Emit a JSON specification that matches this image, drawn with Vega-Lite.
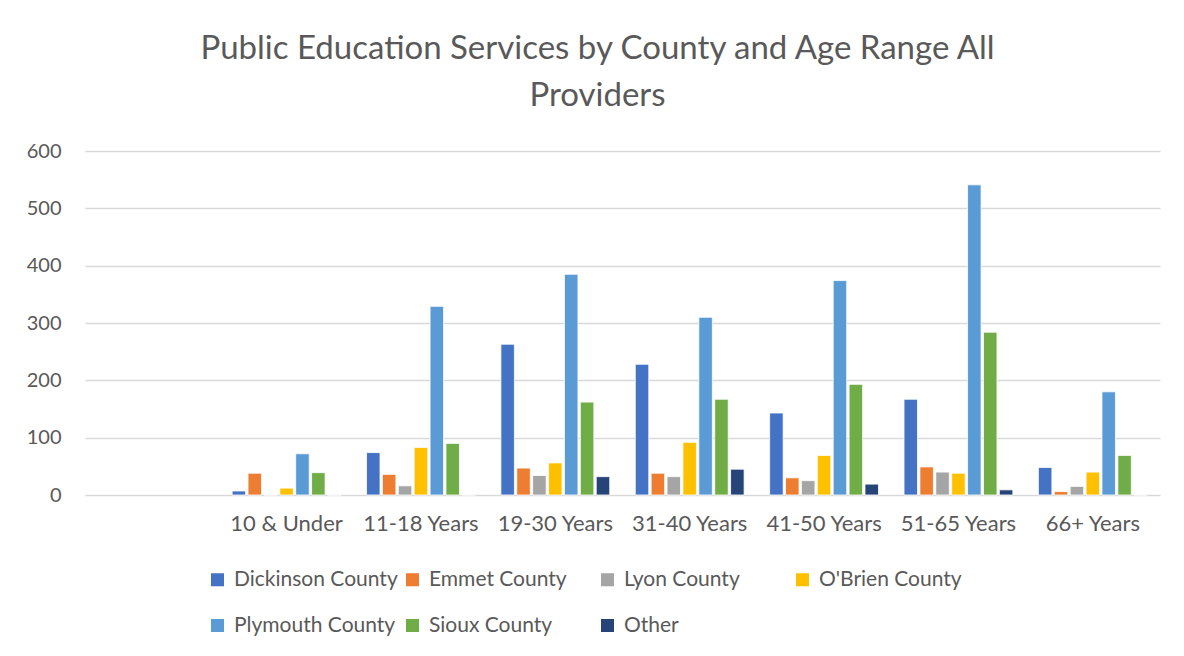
{
  "$schema": "https://vega.github.io/schema/vega-lite/v6.json",
  "autosize": {"type": "none"},
  "padding": {"left": 85, "top": 151, "right": 24, "bottom": 161},
  "width": 1075,
  "height": 344,
  "background": "white",
  "config": {
    "font": "Lato",
    "view": {"stroke": null}
  },
  "title": {
    "text": ["Public Education Services by County and Age Range All", "Providers"],
    "fontSize": 33,
    "fontWeight": "normal",
    "color": "#595959",
    "lineHeight": 47,
    "anchor": "middle",
    "frame": "group",
    "dx": -25,
    "offset": 28
  },
  "data": {
    "values": [
      {"age": "10 & Under", "county": "Dickinson County", "value": 7},
      {"age": "10 & Under", "county": "Emmet County", "value": 38},
      {"age": "10 & Under", "county": "Lyon County", "value": 0},
      {"age": "10 & Under", "county": "O'Brien County", "value": 12},
      {"age": "10 & Under", "county": "Plymouth County", "value": 72},
      {"age": "10 & Under", "county": "Sioux County", "value": 39},
      {"age": "10 & Under", "county": "Other", "value": 0},
      {"age": "11-18 Years", "county": "Dickinson County", "value": 74},
      {"age": "11-18 Years", "county": "Emmet County", "value": 36},
      {"age": "11-18 Years", "county": "Lyon County", "value": 16},
      {"age": "11-18 Years", "county": "O'Brien County", "value": 83},
      {"age": "11-18 Years", "county": "Plymouth County", "value": 329},
      {"age": "11-18 Years", "county": "Sioux County", "value": 90},
      {"age": "11-18 Years", "county": "Other", "value": 0},
      {"age": "19-30 Years", "county": "Dickinson County", "value": 263},
      {"age": "19-30 Years", "county": "Emmet County", "value": 47},
      {"age": "19-30 Years", "county": "Lyon County", "value": 34},
      {"age": "19-30 Years", "county": "O'Brien County", "value": 56},
      {"age": "19-30 Years", "county": "Plymouth County", "value": 385},
      {"age": "19-30 Years", "county": "Sioux County", "value": 162},
      {"age": "19-30 Years", "county": "Other", "value": 32},
      {"age": "31-40 Years", "county": "Dickinson County", "value": 228},
      {"age": "31-40 Years", "county": "Emmet County", "value": 38},
      {"age": "31-40 Years", "county": "Lyon County", "value": 32},
      {"age": "31-40 Years", "county": "O'Brien County", "value": 92},
      {"age": "31-40 Years", "county": "Plymouth County", "value": 310},
      {"age": "31-40 Years", "county": "Sioux County", "value": 167},
      {"age": "31-40 Years", "county": "Other", "value": 45},
      {"age": "41-50 Years", "county": "Dickinson County", "value": 143},
      {"age": "41-50 Years", "county": "Emmet County", "value": 30},
      {"age": "41-50 Years", "county": "Lyon County", "value": 25},
      {"age": "41-50 Years", "county": "O'Brien County", "value": 69},
      {"age": "41-50 Years", "county": "Plymouth County", "value": 374},
      {"age": "41-50 Years", "county": "Sioux County", "value": 193},
      {"age": "41-50 Years", "county": "Other", "value": 19},
      {"age": "51-65 Years", "county": "Dickinson County", "value": 167},
      {"age": "51-65 Years", "county": "Emmet County", "value": 49},
      {"age": "51-65 Years", "county": "Lyon County", "value": 40},
      {"age": "51-65 Years", "county": "O'Brien County", "value": 38},
      {"age": "51-65 Years", "county": "Plymouth County", "value": 541},
      {"age": "51-65 Years", "county": "Sioux County", "value": 284},
      {"age": "51-65 Years", "county": "Other", "value": 9},
      {"age": "66+ Years", "county": "Dickinson County", "value": 48},
      {"age": "66+ Years", "county": "Emmet County", "value": 6},
      {"age": "66+ Years", "county": "Lyon County", "value": 15},
      {"age": "66+ Years", "county": "O'Brien County", "value": 40},
      {"age": "66+ Years", "county": "Plymouth County", "value": 180},
      {"age": "66+ Years", "county": "Sioux County", "value": 69},
      {"age": "66+ Years", "county": "Other", "value": 0}
    ]
  },
  "mark": {"type": "bar", "stroke": "white", "strokeWidth": 0.8},
  "encoding": {
    "x": {
      "field": "age",
      "type": "nominal",
      "scale": {
        "domain": [" ", "10 & Under", "11-18 Years", "19-30 Years", "31-40 Years", "41-50 Years", "51-65 Years", "66+ Years"],
        "paddingInner": 0.19,
        "paddingOuter": 0.095
      },
      "axis": {
        "title": null,
        "labelAngle": 0,
        "labelFontSize": 22,
        "labelColor": "#595959",
        "labelPadding": 18,
        "ticks": false,
        "domain": false
      }
    },
    "xOffset": {
      "field": "county",
      "type": "nominal",
      "sort": ["Dickinson County", "Emmet County", "Lyon County", "O'Brien County", "Plymouth County", "Sioux County", "Other"],
      "scale": {"paddingInner": 0.15}
    },
    "y": {
      "field": "value",
      "type": "quantitative",
      "scale": {"domain": [0, 600], "nice": false},
      "axis": {
        "title": null,
        "values": [0, 100, 200, 300, 400, 500, 600],
        "labelFontSize": 20,
        "labelColor": "#595959",
        "labelPadding": 24,
        "ticks": false,
        "domain": false,
        "gridColor": "#d9d9d9",
        "gridWidth": 1.5
      }
    },
    "color": {
      "field": "county",
      "type": "nominal",
      "sort": ["Dickinson County", "Emmet County", "Lyon County", "O'Brien County", "Plymouth County", "Sioux County", "Other"],
      "scale": {
        "domain": ["Dickinson County", "Emmet County", "Lyon County", "O'Brien County", "Plymouth County", "Sioux County", "Other"],
        "range": ["#4472C4", "#ED7D31", "#A5A5A5", "#FFC000", "#5B9BD5", "#70AD47", "#264478"]
      },
      "legend": {
        "title": null,
        "orient": "none",
        "legendX": 122,
        "legendY": 418,
        "direction": "horizontal",
        "columns": 4,
        "gridAlign": "all",
        "columnPadding": 4,
        "rowPadding": 24,
        "symbolType": "square",
        "symbolSize": 170,
        "symbolStrokeWidth": 0,
        "labelFontSize": 21,
        "labelColor": "#595959",
        "labelOffset": 6,
        "labelLimit": 300
      }
    }
  }
}
